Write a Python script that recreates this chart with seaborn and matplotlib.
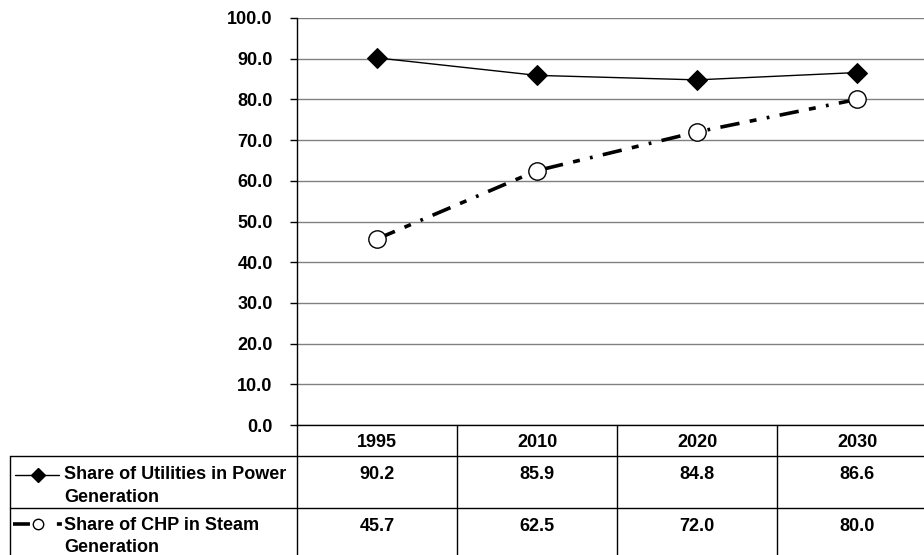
import matplotlib
matplotlib.use("Agg")
import matplotlib.pyplot as plt
import seaborn as sns
import numpy as np
import pandas as pd
from matplotlib.lines import Line2D

# ---- data ----
years = ["1995", "2010", "2020", "2030"]
utilities = [90.2, 85.9, 84.8, 86.6]
chp = [45.7, 62.5, 72.0, 80.0]
util_label = ["Share of Utilities in Power", "Generation"]
chp_label = ["Share of CHP in Steam", "Generation"]
yticks = [0, 10, 20, 30, 40, 50, 60, 70, 80, 90, 100]

sns.set_theme(style="white")
plt.rcParams['font.family'] = ['Liberation Sans', 'DejaVu Sans']
plt.rcParams['font.weight'] = 'bold'
plt.rcParams['text.color'] = 'black'
plt.rcParams['lines.scale_dashes'] = False

FS = 13
W, H = 924, 555
fig = plt.figure(figsize=(W / 100, H / 100), dpi=100)
fig.patch.set_facecolor("white")

# plot area (pixels)
x0, x1, y0, y1 = 297, 937, 18, 425
ax = fig.add_axes([x0 / W, 1 - y1 / H, (x1 - x0) / W, (y1 - y0) / H])
ax.patch.set_alpha(0)

pos = np.arange(len(years))
df = pd.DataFrame({"pos": pos, "util": utilities, "chp": chp})

sns.lineplot(data=df, x="pos", y="util", ax=ax, color="black", lw=1,
             marker="D", markersize=10, markerfacecolor="black",
             markeredgecolor="black", zorder=4)
sns.lineplot(data=df, x="pos", y="chp", ax=ax, color="black", lw=2.6,
             marker="o", markersize=12.5, markerfacecolor="white",
             markeredgecolor="black", markeredgewidth=1, zorder=3)
ax.lines[-1].set_dashes([14, 7.5, 5, 7.5, 2, 7.5])
ax.lines[-1].set_dash_capstyle("butt")

ax.set_xlim(-0.5, len(years) - 0.5)
ax.set_ylim(0, 100)
ax.set_yticks(yticks)
ax.set_yticklabels([f"{v:.1f}" for v in yticks], fontsize=FS, fontweight="bold")
ax.set_xticks([])
ax.set_xlabel("")
ax.set_ylabel("")
ax.grid(axis="y", color="#808080", lw=1)
ax.set_axisbelow(True)
for s in ["top", "right"]:
    ax.spines[s].set_visible(False)
for s in ["left", "bottom"]:
    ax.spines[s].set_color("black")
    ax.spines[s].set_linewidth(1)
ax.tick_params(axis="y", direction="out", length=5, width=1, color="black",
               pad=12.5, left=True, labelcolor="black")

# ---- data table below the plot ----
tab = fig.add_axes([0, 0, 1, 1], zorder=-1)
tab.set_xlim(0, W)
tab.set_ylim(H, 0)
tab.axis("off")

ncol = len(years)
cw = (x1 - x0) / ncol
box_left = 10
r0, r1, r2, r3 = y1, 456, 508, 560
lc = "black"
# vertical lines
for i in range(ncol + 1):
    tab.plot([x0 + i * cw] * 2, [r0, r3], color=lc, lw=1)
tab.plot([box_left] * 2, [r1, r3], color=lc, lw=1)
# horizontal lines
for r in (r1, r2):
    tab.plot([box_left, x1], [r, r], color=lc, lw=1)

tk = dict(fontsize=FS, fontweight="bold", color="black")
for i, yr in enumerate(years):
    cx = x0 + (i + 0.5) * cw
    tab.text(cx, 447, yr, ha="center", va="baseline", **tk)
    tab.text(cx, 479, f"{utilities[i]:.1f}", ha="center", va="baseline", **tk)
    tab.text(cx, 531, f"{chp[i]:.1f}", ha="center", va="baseline", **tk)

# row labels
tx = 64
for j, line in enumerate(util_label):
    tab.text(tx, 479 + j * 23, line, ha="left", va="baseline", **tk)
for j, line in enumerate(chp_label):
    tab.text(tx, 530 + j * 22, line, ha="left", va="baseline", **tk)

# legend keys
tab.add_line(Line2D([15, 59], [475, 475], color="black", lw=1))
tab.add_line(Line2D([38], [475], marker="D", markersize=7, color="black", lw=0))
k2 = Line2D([13, 62], [524, 524], color="black", lw=2.6)
k2.set_dashes([12.2, 19.4, 3.6, 10])
k2.set_dash_capstyle("butt")
tab.add_line(k2)
tab.add_line(Line2D([38], [524], marker="o", markersize=7.5, markerfacecolor="white",
                    markeredgecolor="black", markeredgewidth=1, lw=0))

fig.savefig("out.png", dpi=100, facecolor="white")
